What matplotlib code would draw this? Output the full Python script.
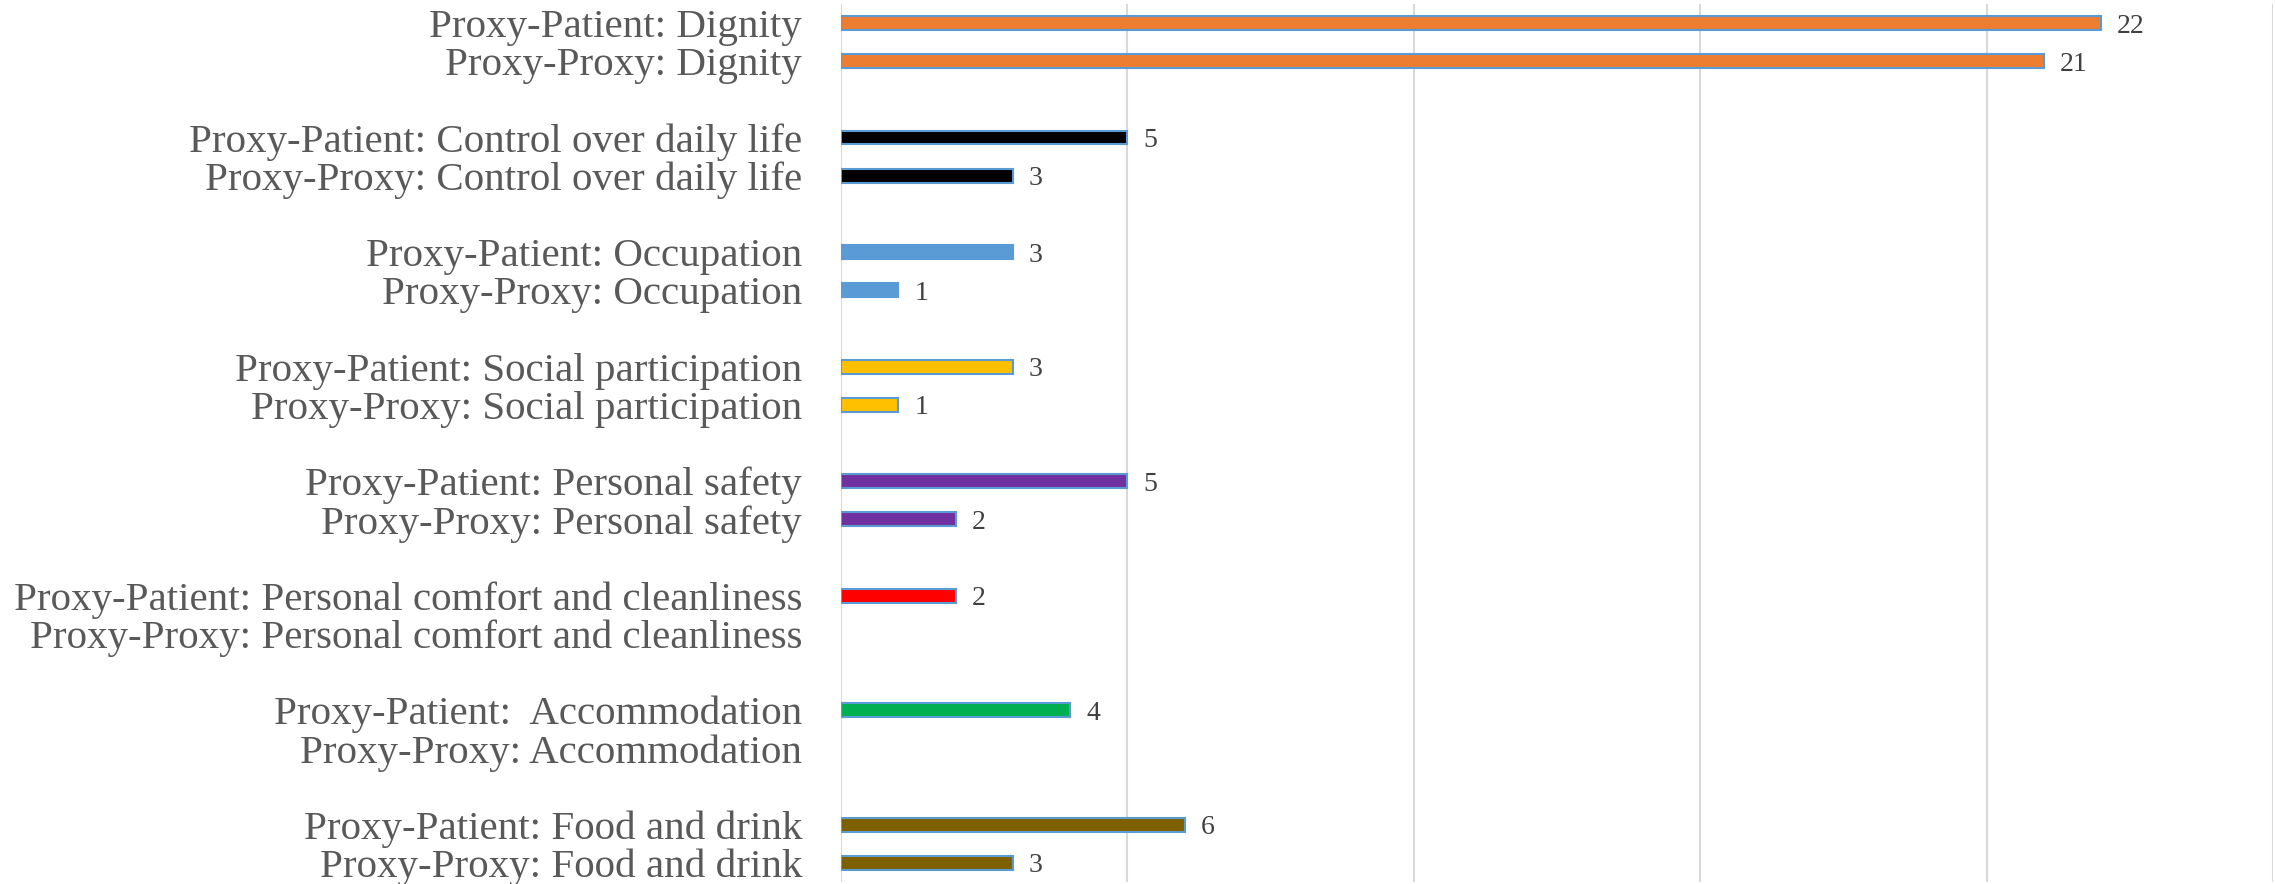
import matplotlib
matplotlib.use("Agg")
import matplotlib.pyplot as plt

groups = ["Dignity", "Control over daily life", "Occupation", "Social participation",
          "Personal safety", "Personal comfort and cleanliness", "Accommodation", "Food and drink"]
patient_labels = ["Proxy-Patient: Dignity", "Proxy-Patient: Control over daily life",
                  "Proxy-Patient: Occupation", "Proxy-Patient: Social participation",
                  "Proxy-Patient: Personal safety", "Proxy-Patient: Personal comfort and cleanliness",
                  "Proxy-Patient:  Accommodation", "Proxy-Patient: Food and drink"]
proxy_labels = ["Proxy-Proxy: Dignity", "Proxy-Proxy: Control over daily life",
                "Proxy-Proxy: Occupation", "Proxy-Proxy: Social participation",
                "Proxy-Proxy: Personal safety", "Proxy-Proxy: Personal comfort and cleanliness",
                "Proxy-Proxy: Accommodation", "Proxy-Proxy: Food and drink"]
patient_values = [22, 5, 3, 3, 5, 2, 4, 6]
proxy_values = [21, 3, 1, 1, 2, 0, 0, 3]
colors = ["#ED7D31", "#000000", "#5B9BD5", "#FFC000", "#7030A0", "#FF0000", "#00B050", "#7F6000"]

plt.rcParams['font.family'] = ['Liberation Serif', 'DejaVu Serif']

fig = plt.figure(figsize=(22.75, 8.84), dpi=100)
ax = fig.add_axes([841/2275, 2/884, 1432/2275, 878/884])

labels, values, cols, ypos = [], [], [], []
row = 0
for i in range(len(groups)):
    for lab, val in ((patient_labels[i], patient_values[i]), (proxy_labels[i], proxy_values[i])):
        labels.append(lab); values.append(val); cols.append(colors[i]); ypos.append(row)
        row += 1
    row += 1
nrows = row - 1

for y, v, c in zip(ypos, values, cols):
    if v > 0:
        ax.barh(y, v, height=0.36, color=c, edgecolor="#5B9BD5", linewidth=1.5, zorder=3)
        ax.text(v + 0.28, y, str(v), va="center_baseline", ha="left", fontsize=20, color="#404040")

ax.set_xlim(0, 25)
ax.set_ylim(nrows - 0.5, -0.5)
ax.set_yticks(ypos)
ax.set_yticklabels(labels, fontsize=29.5, color="#595959", va="center_baseline")
ax.tick_params(axis="y", length=0, pad=28)
ax.set_xticks([0, 5, 10, 15, 20, 25])
ax.tick_params(axis="x", length=0, labelbottom=False)
ax.grid(axis="x", color="#D9D9D9", linewidth=1.5, zorder=0)
for s in ax.spines.values():
    s.set_visible(False)

fig.savefig("out.png", dpi=100)
